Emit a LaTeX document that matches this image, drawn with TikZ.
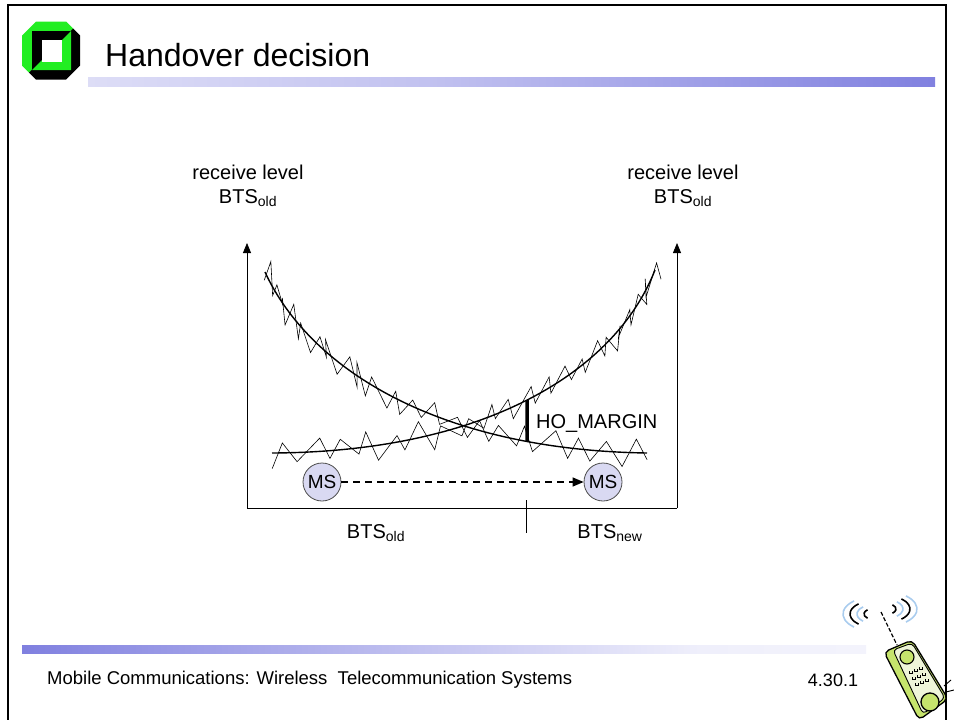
\documentclass[tikz,border=0pt]{standalone}
\usepackage{fontspec}
\setmainfont{Liberation Sans}
\usetikzlibrary{arrows.meta, positioning, intersections}

\definecolor{barblue}{HTML}{3333CC}
\definecolor{msfill}{HTML}{D9D9F2}
\definecolor{logogreen}{HTML}{22EE22}
\definecolor{phonegreen}{HTML}{C6E46C}
\definecolor{phoneface}{HTML}{EEF5D8}
\definecolor{wavebl}{HTML}{A9CCEE}

\pgfdeclarehorizontalshading{titlebar}{100bp}{color(0bp)=(white); color(45bp)=(barblue!30); color(75bp)=(barblue!62); color(100bp)=(barblue)}
\pgfdeclarehorizontalshading{footbar}{100bp}{color(0bp)=(barblue); color(30bp)=(barblue!55); color(65bp)=(barblue!8); color(100bp)=(white)}

% cubic bezier component: \bez{t}{p0}{p1}{p2}{p3}
\newcommand{\bez}[5]{((1-#1)^3*#2+3*(1-#1)^2*#1*#3+3*(1-#1)*#1^2*#4+#1^3*#5)}

\begin{document}
\begin{tikzpicture}[
    x=1pt, y=-1pt,
    >={Triangle[length=10pt,width=8pt]},
    lbl/.style={font=\fontsize{20}{24}\selectfont, align=center, inner sep=0pt},
    curve/.style={line width=1.4pt},
    noise/.style={line width=0.6pt},
    ms/.style={circle, draw=black!70, fill=msfill, line width=0.8pt,
        minimum size=38pt, inner sep=0pt, font=\fontsize{19}{19}\selectfont},
    axis/.style={line width=0.8pt}
]
\useasboundingbox (0,0) rectangle (954,720);

% ---- slide frame and bars ----
\draw[line width=1.6pt] (8,720) -- (8,5) -- (946,5) -- (946,720);
\shade[shading=titlebar] (88,77) rectangle (935,86);
\shade[shading=footbar] (22,645) rectangle (866,653);

% logo
\begin{scope}[shift={(51,50.5)}]
    \clip (-15,-29) -- (15,-29) -- (29,-15) -- (29,15) -- (15,29)
        -- (-15,29) -- (-29,15) -- (-29,-15) -- cycle;
    \fill[logogreen] (-30,-30) -- (30,-30) -- (-30,30) -- cycle;
    \fill[black] (30,-30) -- (30,30) -- (-30,30) -- cycle;
\end{scope}
\begin{scope}[shift={(51.5,50.5)}]
    \fill[black] (-19.5,-19.5) -- (19.5,-19.5) -- (-19.5,19.5) -- cycle;
    \fill[logogreen] (19.5,-19.5) -- (19.5,19.5) -- (-19.5,19.5) -- cycle;
    \fill[white] (-10,-10.5) rectangle (10,11);
\end{scope}

\node[anchor=west, inner sep=0pt, font=\fontsize{32}{32}\selectfont] (title) at (105,55) {Handover decision};
\node[anchor=west, inner sep=0pt, font=\fontsize{18.5}{20}\selectfont] (footer) at (47,680)
    {Mobile Communications: Wireless\ \ Telecommunication Systems};
\node[inner sep=0pt, font=\fontsize{18}{20}\selectfont] (slideno) at (833,680) {4.30.1};

% ---- axes ----
\coordinate (lbase) at (247,508);
\coordinate (rbase) at (677,508);
\coordinate (ltop) at (247,243);
\coordinate (rtop) at (677,243);
\coordinate (tickhi) at (526,500);
\coordinate (ticklo) at (526,533);
\draw[axis,->] (lbase) -- (ltop);
\draw[axis,->] (rbase) -- (rtop);
\draw[axis] (lbase) -- (rbase);
\draw[axis] (tickhi) -- (ticklo);

\node[lbl] (lvlold) at (248,186) {receive level\\BTS\textsubscript{old}};
\node[lbl] (lvlnew) at (683,186) {receive level\\BTS\textsubscript{old}};
\node[lbl] (btsold) at (376,533) {BTS\textsubscript{old}};
\node[lbl] (btsnew) at (610,533) {BTS\textsubscript{new}};

% ---- receive levels: measured (zigzag) and mean ----
\pgfmathsetseed{7}
\draw[noise] plot[variable=\t, samples=43, domain=0:1]
    ({\bez{\t}{263}{310}{440}{649}+6*rand},
     {\bez{\t}{270}{370}{450}{453}+cos(\t*7560)*(5+11*rnd)});
\draw[noise] plot[variable=\t, samples=43, domain=0:1]
    ({\bez{\t}{270}{485}{615}{657}+6*rand},
     {\bez{\t}{453}{452}{372}{268}+cos(\t*7560)*(5+11*rnd)});
\draw[curve, name path=fall] (265,272) .. controls (310,370) and (440,450) .. (647,453);
\draw[curve, name path=rise] (272,453) .. controls (485,452) and (615,372) .. (655,270);

% margin between the two levels
\path[name path=probe] (527,300) -- (527,520);
\path[name intersections={of=fall and probe, by=hobot}];
\path[name intersections={of=rise and probe, by=hotop}];
\draw[line width=3.5pt] (hotop) -- (hobot);
\node[lbl, anchor=west] (homargin) at (536,424) {HO\_MARGIN};

% ---- mobile station moving ----
\node[ms] (msold) at (322,482) {MS};
\node[ms] (msnew) at (603,482) {MS};
\draw[line width=1.3pt, dash pattern=on 7pt off 5pt, -{Triangle[length=11pt,width=9pt]}] (msold) -- (msnew);

% ---- phone ----
\draw[line width=1.2pt, dash pattern=on 4pt off 2pt] (881,612) -- (897,645);
\foreach \r/\c in {10/black, 17/wavebl, 24/black, 31/wavebl} {
    \draw[\c, line width=1.6pt] (874,614) ++(130:{\r} and {0.55*\r})
        arc[start angle=130, end angle=230, x radius=\r, y radius=0.55*\r];
    \draw[\c, line width=1.6pt] (886,609) ++(-50:{\r} and {0.55*\r})
        arc[start angle=-50, end angle=50, x radius=\r, y radius=0.55*\r];
}
\filldraw[fill=phonegreen, line width=1.3pt, rounded corners=5pt]
    (884,652) -- (912,640) -- (948,699) -- (919,720) -- cycle;
\filldraw[fill=phoneface, line width=0.9pt, rounded corners=4pt]
    (893,650) -- (912,643) -- (945,698) -- (923,714) -- cycle;
\filldraw[fill=phonegreen, line width=1.1pt] (907,657) circle (7);
\filldraw[fill=phonegreen, line width=1.3pt] (930,702) circle (9);
\foreach \i in {0,1,2} {
    \foreach \j in {0,1,2} {
        \draw[line width=0.8pt] (909+\j*5+\i*3,671+\i*6-\j*2) -- ++(0,2.5) -- ++(3,0) -- ++(0,-2.5);
    }
}
\draw[line width=0.9pt] (944,686) -- (951,680);
\draw[line width=0.9pt] (946,692) -- (954,690);
\end{tikzpicture}
\end{document}
